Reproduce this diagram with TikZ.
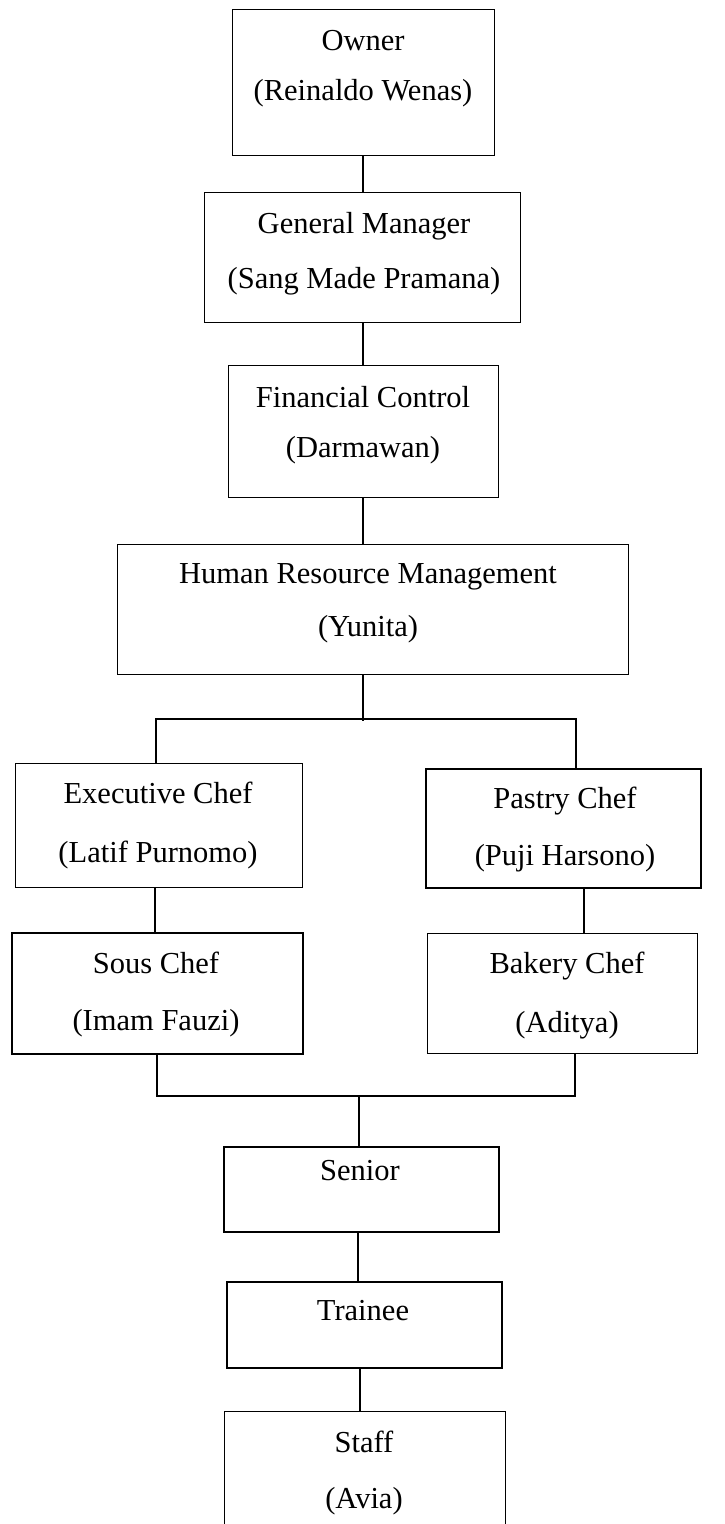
\documentclass[tikz,border=0pt]{standalone}
\usepackage{fontspec}
\setmainfont{Liberation Serif}
\usetikzlibrary{calc}

\tikzset{
  box/.style={draw, line width=1.1pt, anchor=north west, inner sep=0pt},
  boxb/.style={box, line width=1.5pt},
  txt/.style={anchor=base, inner sep=0pt, font=\fontsize{30.5}{30.5}\selectfont},
  link/.style={line width=1.1pt}
}

\begin{document}
\begin{tikzpicture}[x=1pt, y=-1pt]
  \useasboundingbox (0,0) rectangle (724,1524);
  \coordinate (trunk) at (363,0);
  \coordinate (lcol) at (156,0);
  \coordinate (rcol) at (576,0);

  % top chain
  \node[box, minimum width=262, minimum height=146] (owner) at (232,9) {};
  \node[txt] (ownerA) at (363,50) {Owner};
  \node[txt] (ownerB) at (363,100) {(Reinaldo Wenas)};
  \node[box, minimum width=316, minimum height=130] (gm) at (204,192) {};
  \node[txt] (gmA) at (364,233) {General Manager};
  \node[txt] (gmB) at (364,288) {(Sang Made Pramana)};
  \node[box, minimum width=270, minimum height=132] (fc) at (228,365) {};
  \node[txt] (fcA) at (363,407) {Financial Control};
  \node[txt] (fcB) at (363,457) {(Darmawan)};
  \node[box, minimum width=511, minimum height=130] (hrm) at (117,544) {};
  \node[txt] (hrmA) at (368,583) {Human Resource Management};
  \node[txt] (hrmB) at (368,636) {(Yunita)};

  % chefs
  \node[box, minimum width=287, minimum height=124] (exec) at (15,763) {};
  \node[txt] (execA) at (158,803) {Executive Chef};
  \node[txt] (execB) at (158,862) {(Latif Purnomo)};
  \node[boxb, minimum width=275, minimum height=119] (pastry) at (425,768) {};
  \node[txt] (pastryA) at (565,808) {Pastry Chef};
  \node[txt] (pastryB) at (565,865) {(Puji Harsono)};
  \node[boxb, minimum width=291, minimum height=121] (sous) at (11,932) {};
  \node[txt] (sousA) at (156,973) {Sous Chef};
  \node[txt] (sousB) at (156,1030) {(Imam Fauzi)};
  \node[box, minimum width=270, minimum height=120] (bakery) at (427,933) {};
  \node[txt] (bakeryA) at (567,973) {Bakery Chef};
  \node[txt] (bakeryB) at (567,1032) {(Aditya)};

  % bottom chain
  \node[boxb, minimum width=275, minimum height=85] (senior) at (223,1146) {};
  \node[txt] (seniorA) at (360,1180) {Senior};
  \node[boxb, minimum width=275, minimum height=86] (trainee) at (226,1281) {};
  \node[txt] (traineeA) at (363,1320) {Trainee};
  \node[box, minimum width=281, minimum height=140] (staff) at (224,1411) {};
  \node[txt] (staffA) at (364,1452) {Staff};
  \node[txt] (staffB) at (364,1508) {(Avia)};

  % connectors
  \draw[link] (owner.south -| trunk) -- (gm.north -| trunk);
  \draw[link] (gm.south -| trunk) -- (fc.north -| trunk);
  \draw[link] (fc.south -| trunk) -- (hrm.north -| trunk);
  \coordinate (split) at (363,719);
  \draw[link] (hrm.south -| trunk) -- ($(split)+(0,2)$);
  \draw[link] (exec.north -| lcol) -- (lcol |- split) -- (rcol |- split) -- (pastry.north -| rcol);
  \draw[link] (exec.south -| 155,0) -- (sous.north -| 155,0);
  \draw[link] (pastry.south -| 584,0) -- (bakery.north -| 584,0);
  \coordinate (merge) at (359,1096);
  \draw[link] (sous.south -| 157,0) -- (157,1096) -- (575,1096) -- (bakery.south -| 575,0);
  \draw[link] (merge) -- (senior.north -| merge);
  \draw[link] (senior.south -| 358,0) -- (trainee.north -| 358,0);
  \draw[link] (trainee.south -| 360,0) -- (staff.north -| 360,0);
\end{tikzpicture}
\end{document}
